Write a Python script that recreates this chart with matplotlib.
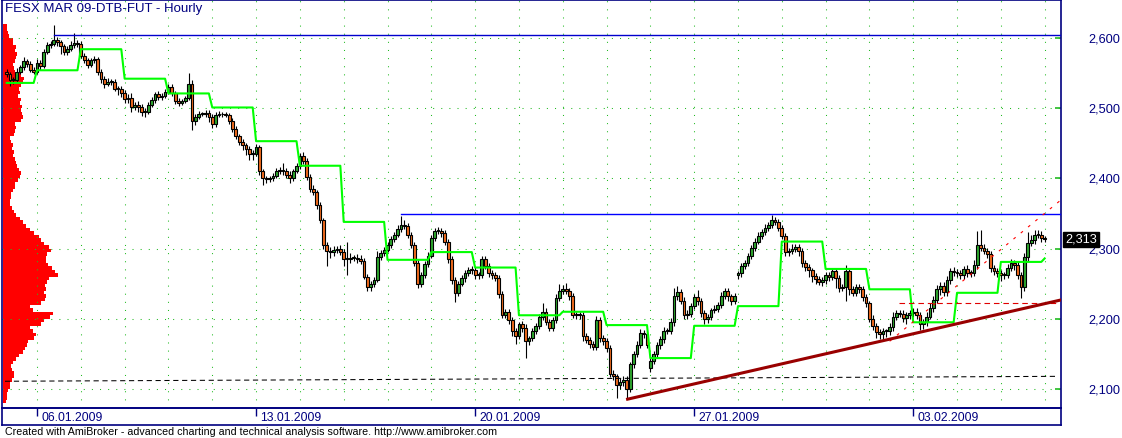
import matplotlib
matplotlib.use("Agg")
import matplotlib.pyplot as plt
import numpy as np

plt.rcParams["font.family"] = ["Liberation Sans", "DejaVu Sans"]

W, H, DPI = 1122, 438, 100

TITLE = "FESX MAR 09-DTB-FUT - Hourly"
FOOTER = ("Created with AmiBroker - advanced charting and technical analysis "
          "software. http://www.amibroker.com")

# hourly bars: 9 bars of 05.01, then 13 bars per session, last bar is 06.02
BARS_PER_DAY = 13
FIRST_FULL_DAY = 9

closes = [
    2548, 2540, 2540, 2552, 2558, 2567, 2563, 2555, 2552,
    2565, 2560, 2580, 2590, 2592, 2597, 2594, 2588, 2580, 2584, 2590, 2593, 2592,  # 06.01
    2575, 2568, 2562, 2568, 2570, 2552, 2542, 2535, 2538, 2538, 2528, 2527, 2522,  # 07.01
    2513, 2515, 2502, 2505, 2502, 2495, 2495, 2505, 2512, 2520, 2516, 2518, 2523,  # 08.01
    2530, 2522, 2510, 2508, 2510, 2514, 2535, 2482, 2488, 2492, 2492, 2493, 2487,  # 09.01
    2477, 2490, 2492, 2491, 2490, 2482, 2470, 2460, 2452, 2447, 2442, 2435, 2435,  # 12.01
    2445, 2410, 2400, 2399, 2400, 2403, 2410, 2410, 2410, 2405, 2400, 2410, 2418,  # 13.01
    2432, 2425, 2402, 2385, 2380, 2362, 2340, 2305, 2297, 2295, 2298, 2300, 2295,  # 14.01
    2285, 2285, 2286, 2287, 2285, 2282, 2260, 2245, 2250, 2255, 2288, 2293, 2298,  # 15.01
    2305, 2313, 2320, 2328, 2334, 2332, 2320, 2305, 2280, 2250, 2262, 2278, 2290,  # 16.01
    2315, 2325, 2325, 2322, 2310, 2285, 2255, 2237, 2250, 2258, 2265, 2270, 2270,  # 19.01
    2262, 2263, 2285, 2275, 2265, 2262, 2258, 2235, 2205, 2210, 2198, 2183, 2176,  # 20.01
    2192, 2187, 2168, 2172, 2183, 2190, 2202, 2210, 2196, 2187, 2198, 2230, 2240,  # 21.01
    2243, 2240, 2233, 2206, 2205, 2205, 2175, 2170, 2164, 2160, 2198, 2172, 2168,  # 22.01
    2158, 2122, 2118, 2105, 2110, 2113, 2100, 2135, 2150, 2162, 2180, 2178, 2163,  # 23.01
    2140, 2150, 2162, 2171, 2182, 2182, 2195, 2232, 2238, 2226, 2205, 2207, 2218,  # 26.01
    2231, 2225, 2208, 2199, 2203, 2212, 2214, 2220, 2233, 2240, 2232, 2225, 2232,  # 27.01
    2265, 2275, 2280, 2290, 2301, 2310, 2318, 2323, 2330, 2333, 2340, 2338, 2330,  # 28.01
    2318, 2295, 2296, 2300, 2302, 2297, 2279, 2274, 2269, 2261, 2257, 2253, 2255,  # 29.01
    2262, 2260, 2268, 2258, 2244, 2245, 2268, 2242, 2237, 2245, 2242, 2231, 2222,  # 30.01
    2200, 2190, 2181, 2179, 2182, 2182, 2188, 2202, 2208, 2207, 2201, 2205, 2208,  # 02.02
    2210, 2205, 2192, 2195, 2203, 2215, 2227, 2242, 2247, 2238, 2255, 2268, 2266,  # 03.02
    2265, 2262, 2271, 2265, 2265, 2276, 2305, 2301, 2297, 2292, 2272, 2268, 2265,  # 04.02
    2262, 2262, 2273, 2280, 2276, 2262, 2245, 2288, 2308, 2312, 2320, 2320, 2315,  # 05.02
    2313,
]

# wick lengths above / below the candle body, in index points
wick_hi = [
    4, 3, 4, 5, 4, 6, 3, 4, 3,
    5, 4, 4, 4, 3, 21, 4, 3, 4, 4, 5, 14, 4,
    4, 4, 3, 4, 5, 3, 4, 4, 5, 4, 4, 3, 4,
    4, 5, 6, 4, 5, 4, 5, 4, 4, 3, 5, 4, 4,
    5, 4, 3, 4, 3, 4, 15, 5, 4, 4, 3, 4, 4,
    4, 5, 4, 3, 4, 3, 4, 4, 3, 4, 4, 4, 6,
    4, 3, 4, 3, 4, 4, 5, 6, 12, 5, 5, 4, 4,
    4, 6, 4, 4, 5, 4, 4, 4, 4, 5, 6, 4, 5,
    4, 25, 8, 4, 5, 6, 4, 4, 4, 4, 8, 5, 4,
    4, 5, 4, 5, 12, 6, 4, 4, 5, 4, 4, 4, 5,
    5, 5, 6, 4, 4, 4, 4, 4, 4, 5, 5, 4, 5,
    4, 4, 5, 5, 4, 4, 4, 4, 4, 4, 4, 4, 4,
    4, 5, 5, 4, 4, 4, 5, 12, 5, 4, 5, 6, 10,
    5, 8, 4, 4, 4, 4, 4, 5, 4, 4, 6, 5, 5,
    4, 4, 5, 4, 5, 5, 5, 4, 4, 6, 5, 4, 5,
    4, 4, 5, 5, 6, 5, 6, 12, 8, 5, 5, 5, 4,
    5, 10, 4, 5, 4, 4, 5, 4, 5, 4, 4, 4, 5,
    3, 5, 4, 4, 4, 5, 5, 5, 5, 5, 8, 5, 4,
    4, 4, 5, 6, 4, 4, 4, 5, 4, 4, 4, 4, 4,
    4, 5, 5, 4, 4, 5, 9, 4, 5, 4, 4, 4, 5,
    4, 5, 4, 5, 5, 4, 6, 8, 5, 5, 5, 4, 4,
    5, 5, 4, 5, 6, 8, 5, 6, 5, 5, 6, 5, 6,
    5, 5, 4, 5, 5, 8, 20, 22, 5, 4, 5, 4, 5,
    4, 5, 5, 5, 4, 5, 4, 6, 16, 8, 6, 6, 5,
    3,
]
wick_lo = [
    4, 8, 5, 3, 4, 3, 4, 3, 4,
    4, 6, 3, 3, 4, 4, 5, 11, 4, 4, 3, 4, 5,
    3, 4, 5, 3, 4, 5, 6, 6, 4, 5, 4, 8, 6,
    6, 5, 8, 5, 8, 6, 7, 4, 4, 4, 5, 4, 3,
    3, 4, 4, 5, 4, 3, 3, 13, 6, 4, 3, 5, 6,
    5, 4, 3, 4, 3, 5, 4, 4, 5, 6, 8, 9, 9,
    3, 5, 10, 6, 4, 4, 3, 4, 5, 4, 6, 4, 3,
    5, 4, 4, 4, 4, 5, 4, 6, 22, 8, 5, 4, 4,
    10, 22, 5, 4, 6, 4, 4, 5, 6, 5, 3, 4, 3,
    3, 4, 4, 4, 4, 4, 5, 4, 5, 6, 5, 4, 4,
    4, 4, 4, 5, 5, 5, 5, 13, 4, 4, 5, 4, 6,
    6, 5, 5, 4, 5, 5, 4, 5, 4, 4, 5, 8, 12,
    5, 6, 24, 5, 4, 4, 4, 4, 5, 5, 4, 4, 4,
    4, 5, 6, 5, 6, 5, 6, 5, 5, 5, 4, 5, 5,
    6, 5, 5, 18, 5, 6, 14, 5, 5, 5, 4, 5, 5,
    6, 5, 4, 5, 5, 4, 4, 5, 5, 5, 6, 5, 5,
    4, 5, 5, 6, 5, 5, 4, 4, 5, 5, 6, 5, 4,
    6, 6, 4, 5, 5, 5, 4, 4, 4, 5, 4, 4, 5,
    5, 6, 5, 4, 5, 8, 5, 6, 10, 8, 8, 5, 6,
    5, 6, 5, 14, 6, 5, 20, 8, 5, 4, 5, 5, 5,
    5, 6, 8, 8, 10, 8, 5, 5, 4, 5, 6, 8, 5,
    5, 6, 8, 6, 5, 4, 5, 5, 8, 5, 5, 5, 5,
    5, 5, 6, 5, 5, 4, 5, 5, 5, 5, 5, 5, 5,
    8, 5, 4, 5, 6, 5, 16, 5, 6, 5, 5, 5, 5,
    3,
]
# session opens that gap away from the previous close
gap_opens = {0: 2552, 191: 2130, 217: 2262}

# green stepped stop, one level per session (05.01 ... 06.02)
stop_levels = [2536, 2554, 2584, 2542, 2521, 2501, 2453, 2418, 2338, 2284,
               2295, 2273, 2205, 2210, 2191, 2144, 2190, 2218, 2310, 2271,
               2242, 2195, 2237, 2281, 2286]

week_labels = ["06.01.2009", "13.01.2009", "20.01.2009", "27.01.2009", "03.02.2009"]
week_sessions = [0, 5, 10, 15, 20]
price_ticks = [2100, 2200, 2300, 2400, 2500, 2600]

# volume-at-price profile, 5 point bins starting at 2080
profile_start, profile_step = 2080, 5
profile_vol = [
    3, 4, 4, 5, 7, 7, 9, 11, 11, 9,
    8, 10, 13, 16, 20, 22, 24, 25, 31, 33,
    30, 27, 38, 41, 47, 50, 30, 27, 38, 42,
    43, 41, 43, 42, 44, 46, 55, 52, 49, 45,
    43, 43, 44, 48, 46, 41, 38, 36, 31, 27,
    23, 20, 17, 13, 11, 9, 7, 7, 8, 8,
    10, 12, 12, 15, 17, 18, 16, 14, 13, 12,
    10, 11, 9, 10, 8, 7, 11, 12, 13, 12,
    18, 20, 19, 18, 19, 17, 18, 15, 17, 16,
    18, 20, 21, 18, 12, 11, 10, 12, 13, 14,
    12, 13, 10, 10, 6, 5, 4, 4,
]

# study lines as (bar, price) anchors
top_res = (14, 2604)
mid_res = (117, 2349)
base_line = ([-0.5, 312.0], [2111, 2118])
up_trend = ([183.8, 313.0], [2085, 2227])
red_diag = ([262.0, 312.5], [2168, 2368])
red_flat = ([264.8, 311.7], [2222, 2222])
last_price = 2313

NAVY = "#000080"
GRID = "#22BB22"
UP, DOWN = "#2EA82E", "#F26B1D"

# ---------------------------------------------------------------------------
n = len(closes)
idx = np.arange(n)
c = np.array(closes, dtype=float)
o = np.array([gap_opens.get(i, closes[i - 1] if i else closes[0]) for i in range(n)], dtype=float)
hi = np.maximum(o, c) + np.array(wick_hi)
lo = np.minimum(o, c) - np.array(wick_lo)
session = np.array([0 if i < FIRST_FULL_DAY else 1 + (i - FIRST_FULL_DAY) // BARS_PER_DAY
                    for i in range(n)])
stop = np.array(stop_levels)[session]

# bar i sits at 6.7 + 3.37*i px; plot frame spans px 2..1061
X_LO, X_HI = (2 - 6.7) / 3.37, (1061 - 6.7) / 3.37
Y_LO, Y_HI = 2072.9, 2654.1

fig = plt.figure(figsize=(W / DPI, H / DPI), dpi=DPI)
rect = [2 / W, 30 / H, 1059 / W, 408 / H]
pax = fig.add_axes(rect, zorder=0)
ax = fig.add_axes(rect, zorder=1)
ax.patch.set_visible(False)

# profile behind everything
levels = np.arange(len(profile_vol)) * profile_step + profile_start
pax.barh(levels + profile_step / 2, profile_vol, height=profile_step, left=1,
         color="#FF0000", linewidth=0)
pax.set_xlim(0, 1059)
pax.set_ylim(Y_LO, Y_HI)
pax.axis("off")

ax.set_xlim(X_LO, X_HI)
ax.set_ylim(Y_LO, Y_HI)

# dotted grid
dots = dict(color=GRID, lw=0.75, linestyle=(0, (1, 6.8)), zorder=1)
for k in range(len(stop_levels) - 1):
    ax.axvline(FIRST_FULL_DAY + k * BARS_PER_DAY, **dots)
for p in price_ticks:
    ax.axhline(p, **dots)

# candles
ax.vlines(idx, lo, hi, color="black", lw=0.8, zorder=3)
body_lo = np.minimum(o, c)
body_h = np.maximum(np.abs(c - o), 1.4)
ax.bar(idx, body_h, bottom=body_lo, width=0.82,
       color=np.where(c >= o, UP, DOWN), edgecolor="black", linewidth=0.8, zorder=4)

# studies
ax.plot(idx, stop, color="#00FF00", lw=1.5, zorder=5)
ax.plot([top_res[0], X_HI], [top_res[1]] * 2, color="#0000CC", lw=1.0, zorder=5)
ax.plot([mid_res[0], X_HI], [mid_res[1]] * 2, color="#0000FF", lw=1.0, zorder=5)
ax.plot(*base_line, color="black", lw=0.75, linestyle=(0, (5, 3.5)), zorder=5)
ax.plot(*red_flat, color="#E00000", lw=0.8, linestyle=(0, (5, 3.5)), zorder=5)
ax.plot(*red_diag, color="#FF0000", lw=0.8, linestyle=(0, (2.5, 6)), zorder=5)
ax.plot(*up_trend, color="#990000", lw=2.2, solid_capstyle="butt", zorder=6)

ax.set_xticks([])
ax.yaxis.tick_right()
ax.set_yticks(price_ticks)
ax.set_yticklabels([f"{p:,}" for p in price_ticks])
ax.tick_params(axis="y", direction="in", length=4.3, width=1.2, color=GRID,
               labelcolor=NAVY, labelsize=9.2, pad=20)
for s in ax.spines.values():
    s.set_color(NAVY)
    s.set_linewidth(1.2)

ax.annotate(f"{last_price:,}", xy=(1, last_price), xycoords=("axes fraction", "data"),
            xytext=(3, 0), textcoords="offset points", ha="left", va="center",
            fontsize=9.2, color="white", zorder=10, annotation_clip=False,
            bbox=dict(boxstyle="square,pad=0.15", fc="black", ec="black"))

# date strip
dax = fig.add_axes([2 / W, 13 / H, 1059 / W, 17 / H])
dax.set_xlim(X_LO, X_HI)
dax.set_ylim(0, 1)
dax.set_xticks([])
dax.set_yticks([])
for s in dax.spines.values():
    s.set_color(NAVY)
    s.set_linewidth(1.2)
tick_bars = [FIRST_FULL_DAY + s * BARS_PER_DAY for s in week_sessions]
dax.vlines(tick_bars, 0.55, 1.0, color=NAVY, lw=1.0)
for b, lab in zip(tick_bars, week_labels):
    dax.text(b + 1.3, 0.42, lab, ha="left", va="center", fontsize=8.7, color=NAVY)

fig.text(5 / W, 1 - 3 / H, TITLE, ha="left", va="top", fontsize=9.5, color=NAVY)
fig.text(5 / W, 1 - 432 / H, FOOTER, ha="left", va="center", fontsize=7.7, color="black")

fig.savefig("out.png", dpi=DPI)
